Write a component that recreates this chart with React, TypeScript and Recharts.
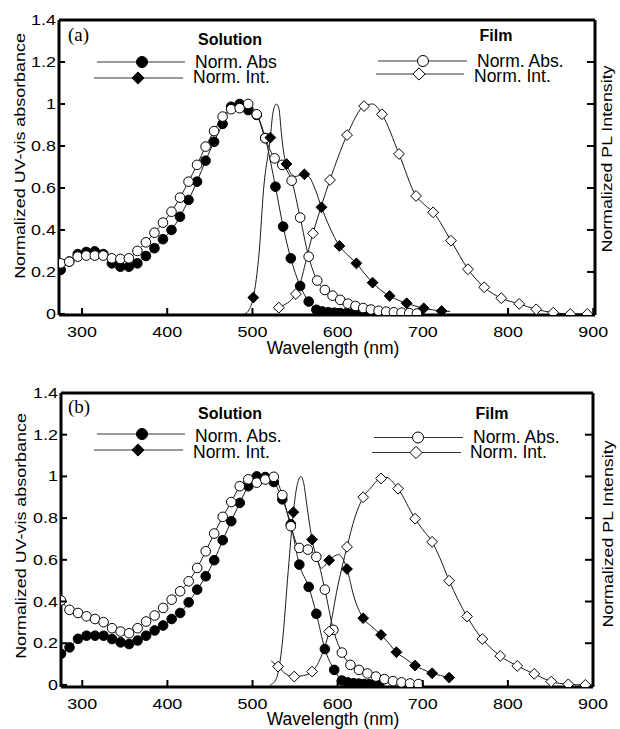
import React from "react";
import { ComposedChart, Line, XAxis, YAxis, Legend, Label } from "recharts";

type Pt = [number, number];
type Kind = "disc" | "ring" | "diamond" | "odiamond";

const xTicks = [300, 400, 500, 600, 700, 800, 900];
const yTicks = [0, 0.2, 0.4, 0.6, 0.8, 1, 1.2, 1.4];
const rightTicks = [0.2, 0.4, 0.6, 0.8, 1, 1.2];

// ---- panel (a) ----
const solAbsA: Pt[] = [
  [275, 0.21], [285, 0.25], [295, 0.285], [305, 0.295], [315, 0.298], [325, 0.285], [335, 0.241],
  [345, 0.225], [355, 0.225], [365, 0.241], [375, 0.276], [385, 0.313], [395, 0.356], [405, 0.4],
  [415, 0.463], [425, 0.543], [435, 0.63], [445, 0.73], [455, 0.82], [465, 0.905], [475, 0.987],
  [485, 1.0], [495, 0.971], [505, 0.948], [515, 0.838], [527, 0.606], [536, 0.416], [545, 0.265],
  [556, 0.133], [566, 0.059], [575, 0.02], [582, 0.012], [589, 0.008], [596, 0.006], [603, 0.004],
  [610, 0.003], [617, 0.002], [624, 0.002], [631, 0.001], [638, 0.001], [645, 0.0], [652, 0.0],
];
const filmAbsA: Pt[] = [
  [275, 0.241], [285, 0.249], [295, 0.273], [305, 0.278], [315, 0.278], [325, 0.278], [335, 0.265],
  [345, 0.262], [355, 0.265], [365, 0.3], [375, 0.341], [385, 0.387], [395, 0.435], [405, 0.487],
  [415, 0.554], [425, 0.63], [435, 0.71], [445, 0.797], [455, 0.871], [465, 0.94], [475, 0.975],
  [485, 0.98], [495, 1.0], [505, 0.951], [515, 0.837], [526, 0.741], [535, 0.71], [546, 0.635],
  [556, 0.459], [566, 0.273], [576, 0.159], [585, 0.114], [594, 0.087], [603, 0.067], [612, 0.049],
  [621, 0.038], [630, 0.028], [639, 0.021], [648, 0.015], [657, 0.011], [666, 0.008], [675, 0.006],
  [684, 0.004], [693, 0.002],
];
const solPlA: Pt[] = [
  [501, 0.078], [521, 0.84], [540, 0.714], [561, 0.665], [581, 0.508], [602, 0.324], [622, 0.241],
  [641, 0.149], [661, 0.086], [681, 0.051], [701, 0.027], [722, 0.014],
];
const solPlLineA: Pt[] = [
  [491, 0.0], [496, 0.02], [508, 0.3], [513, 0.59], [524, 0.956], [528, 1.0], [531, 0.98],
  [534, 0.86], [537, 0.76], [550, 0.655], [567, 0.65], [574, 0.59], [591, 0.41], [612, 0.28],
  [631, 0.195], [651, 0.112], [671, 0.066], [691, 0.038], [711, 0.02], [732, 0.012],
];
const filmPlA: Pt[] = [
  [531, 0.03], [551, 0.095], [571, 0.384], [591, 0.638], [611, 0.852], [631, 0.99], [652, 0.951],
  [672, 0.762], [692, 0.562], [712, 0.484], [733, 0.349], [753, 0.213], [772, 0.127], [792, 0.075],
  [813, 0.048], [833, 0.022], [853, 0.006], [873, 0.0], [893, 0.0],
];
const filmPlLineA: Pt[] = [[526, 0.02], [641, 1.0], [702, 0.52], [900, 0.0]];

// ---- panel (b) ----
const solAbsB: Pt[] = [
  [275, 0.149], [285, 0.18], [295, 0.221], [305, 0.236], [315, 0.236], [325, 0.236], [335, 0.22],
  [345, 0.204], [355, 0.196], [365, 0.213], [375, 0.236], [385, 0.261], [395, 0.285], [405, 0.316],
  [415, 0.345], [425, 0.396], [435, 0.457], [445, 0.521], [455, 0.598], [465, 0.694], [475, 0.785],
  [485, 0.873], [495, 0.953], [505, 1.0], [515, 0.997], [525, 0.973], [535, 0.89], [545, 0.77],
  [555, 0.577], [566, 0.47], [575, 0.341], [585, 0.172], [596, 0.072], [605, 0.021], [612, 0.012],
  [619, 0.008], [625, 0.006], [631, 0.004], [637, 0.003], [643, 0.002], [649, 0.001],
];
const filmAbsB: Pt[] = [
  [275, 0.405], [285, 0.36], [295, 0.345], [305, 0.329], [315, 0.316], [325, 0.301], [335, 0.272],
  [345, 0.256], [355, 0.248], [365, 0.272], [375, 0.304], [385, 0.333], [395, 0.369], [405, 0.409],
  [415, 0.449], [425, 0.497], [435, 0.561], [445, 0.641], [455, 0.726], [465, 0.806], [475, 0.877],
  [485, 0.953], [495, 0.986], [505, 0.97], [515, 0.985], [525, 0.998], [535, 0.91], [545, 0.761],
  [555, 0.657], [565, 0.649], [575, 0.614], [585, 0.457], [595, 0.264], [605, 0.155], [615, 0.096],
  [625, 0.072], [635, 0.055], [645, 0.04], [655, 0.028], [665, 0.018], [675, 0.012], [685, 0.007],
  [695, 0.004],
];
const solPlB: Pt[] = [
  [548, 0.828], [570, 0.697], [590, 0.598], [611, 0.556], [630, 0.32], [651, 0.24], [669, 0.157],
  [691, 0.093], [711, 0.056], [731, 0.035],
];
const solPlLineB: Pt[] = [
  [521, 0.0], [528, 0.03], [535, 0.2], [542, 0.55], [552, 0.95], [557, 1.0], [560, 0.97],
  [564, 0.857], [567, 0.77], [576, 0.6], [581, 0.56], [601, 0.625], [619, 0.425], [640, 0.28],
  [660, 0.2], [680, 0.125], [701, 0.073], [721, 0.045],
];
const filmPlB: Pt[] = [
  [530, 0.088], [549, 0.04], [570, 0.064], [590, 0.256], [611, 0.662], [630, 0.9], [651, 0.99],
  [671, 0.941], [691, 0.797], [711, 0.686], [731, 0.5], [752, 0.328], [770, 0.22], [791, 0.139],
  [811, 0.091], [831, 0.053], [851, 0.016], [871, 0.003], [891, 0.0],
];
const filmPlLineB: Pt[] = [
  [522, 0.115], [540, 0.05], [560, 0.045], [580, 0.13], [600, 0.47], [620, 0.8], [640, 0.95],
  [645, 0.975], [658, 0.995], [663, 0.98], [700, 0.745], [720, 0.61], [900, 0.0],
];

const SANS = "Liberation Sans, Arial, sans-serif";

function rows(marks: Pt[], extra: Pt[] = []) {
  return [
    ...marks.map(([nm, v]) => ({ nm, v, m: true })),
    ...extra.map(([nm, v]) => ({ nm, v, m: false })),
  ].sort((a, b) => a.nm - b.nm);
}

function Marker({ kind, cx, cy, r = 4.8 }: { kind: Kind; cx: number; cy: number; r?: number }) {
  const fill = kind === "disc" || kind === "diamond" ? "#000" : "#fff";
  if (kind === "disc" || kind === "ring") {
    return <circle cx={cx} cy={cy} r={r} fill={fill} stroke="#000" strokeWidth={1} />;
  }
  const d = r + 0.6;
  return (
    <polygon
      points={`${cx},${cy - d} ${cx + d},${cy} ${cx},${cy + d} ${cx - d},${cy}`}
      fill={fill}
      stroke="#000"
      strokeWidth={1}
    />
  );
}

const dotFor = (kind: Kind) => (p: any) =>
  p.payload && p.payload.m ? (
    <Marker key={`${kind}-${p.index}`} kind={kind} cx={p.cx} cy={p.cy} />
  ) : (
    <g key={`${kind}-${p.index}`} />
  );

// tickSize/tickMargin are 0, so x/y arrive on the axis line; the inward tick is drawn here
const XTick = (p: any) => (
  <g>
    <line x1={p.x} x2={p.x} y1={p.y} y2={p.y - 7} stroke="#000" strokeWidth={2} />
    <text
      transform={`translate(${p.x} ${p.y + 22}) scale(1.28 1)`}
      textAnchor="middle"
      fontSize={14}
      fontFamily={SANS}
      fill="#000"
    >
      {p.payload.value}
    </text>
  </g>
);

const YTick = (p: any) => (
  <g>
    <line x1={p.x} x2={p.x + 6} y1={p.y} y2={p.y} stroke="#000" strokeWidth={2} />
    <text
      transform={`translate(${p.x - 3} ${p.y + 5}) scale(1.28 1)`}
      textAnchor="end"
      fontSize={14}
      fontFamily={SANS}
      fill="#000"
    >
      {String(p.payload.value)}
    </text>
  </g>
);

const RTick = (p: any) => (
  <line x1={p.x} x2={p.x - 8} y1={p.y} y2={p.y} stroke="#000" strokeWidth={2} />
);

type LegendRow = { kind: Kind; text: string; x1: number; x2: number; mx: number; ly: number; tx: number; ty: number };
type PanelCfg = {
  top: number;
  height: number;
  margin: { top: number; right: number; bottom: number; left: number };
  xDomain: [number, number];
  yDomain: [number, number];
  tag: string;
  tagY: number;
  leftTitle: { cx: number; cy: number };
  rightTitle: { cx: number; cy: number };
  xTitleY: number;
  solHead: { x: number; y: number };
  filmHead: { x: number; y: number };
  legend: LegendRow[];
  series: { kind: Kind; marks: Pt[]; extra?: Pt[] }[];
};

const panels: PanelCfg[] = [
  {
    top: 0,
    height: 360,
    margin: { top: 19, right: 24, bottom: 21, left: 0 },
    xDomain: [273, 902],
    yDomain: [-0.005, 1.4],
    tag: "(a)",
    tagY: 41,
    leftTitle: { cx: 20, cy: 156 },
    rightTitle: { cx: 607, cy: 159 },
    xTitleY: 39,
    solHead: { x: 230, y: 45 },
    filmHead: { x: 496, y: 41 },
    legend: [
      { kind: "disc", text: "Norm. Abs", x1: 97, x2: 185, mx: 142, ly: 62, tx: 195, ty: 67.5 },
      { kind: "diamond", text: "Norm. Int.", x1: 94, x2: 183, mx: 138, ly: 78, tx: 193, ty: 83 },
      { kind: "ring", text: "Norm. Abs.", x1: 378, x2: 467, mx: 423, ly: 61, tx: 477, ty: 66.5 },
      { kind: "odiamond", text: "Norm. Int.", x1: 376, x2: 464, mx: 419, ly: 74, tx: 474, ty: 81.5 },
    ],
    series: [
      { kind: "disc", marks: solAbsA },
      { kind: "ring", marks: filmAbsA },
      { kind: "diamond", marks: solPlA, extra: solPlLineA },
      { kind: "odiamond", marks: filmPlA, extra: filmPlLineA },
    ],
  },
  {
    top: 373,
    height: 356,
    margin: { top: 19, right: 26, bottom: 18, left: 2 },
    xDomain: [275, 900],
    yDomain: [-0.01, 1.4],
    tag: "(b)",
    tagY: 40,
    leftTitle: { cx: 21, cy: 163 },
    rightTitle: { cx: 608, cy: 161 },
    xTitleY: 38,
    solHead: { x: 230, y: 45.5 },
    filmHead: { x: 492, y: 45.5 },
    legend: [
      { kind: "disc", text: "Norm. Abs.", x1: 97, x2: 185, mx: 142, ly: 61, tx: 195, ty: 69 },
      { kind: "diamond", text: "Norm. Int.", x1: 94, x2: 183, mx: 138, ly: 77, tx: 193, ty: 84.5 },
      { kind: "ring", text: "Norm. Abs.", x1: 374, x2: 463, mx: 418, ly: 64.5, tx: 473, ty: 70 },
      { kind: "odiamond", text: "Norm. Int.", x1: 372, x2: 461, mx: 416, ly: 79.5, tx: 470, ty: 85 },
    ],
    series: [
      { kind: "disc", marks: solAbsB },
      { kind: "ring", marks: filmAbsB },
      { kind: "diamond", marks: solPlB, extra: solPlLineB },
      { kind: "odiamond", marks: filmPlB, extra: filmPlLineB },
    ],
  },
];

function PanelLegend({ cfg }: { cfg: PanelCfg }) {
  return (
    <svg width={620} height={cfg.height} style={{ display: "block", overflow: "visible" }}>
      <text x={68} y={cfg.tagY} fontSize={19} fontFamily="Liberation Serif, Times New Roman, serif" fill="#000">
        {cfg.tag}
      </text>
      <text x={cfg.solHead.x} y={cfg.solHead.y} textAnchor="middle" fontSize={16} fontWeight="bold" fontFamily={SANS} fill="#000">
        Solution
      </text>
      <text x={cfg.filmHead.x} y={cfg.filmHead.y} textAnchor="middle" fontSize={16} fontWeight="bold" fontFamily={SANS} fill="#000">
        Film
      </text>
      {cfg.legend.map((r) => (
        <g key={r.kind}>
          <line x1={r.x1} x2={r.x2} y1={r.ly} y2={r.ly} stroke="#333" strokeWidth={1} />
          <Marker kind={r.kind} cx={r.mx} cy={r.ly} r={5.5} />
          <text x={r.tx} y={r.ty} fontSize={17.5} fontFamily={SANS} fill="#000">
            {r.text}
          </text>
        </g>
      ))}
    </svg>
  );
}

function Panel({ cfg }: { cfg: PanelCfg }) {
  const frame = { stroke: "#000", strokeWidth: 3 };
  return (
    <div style={{ position: "absolute", left: 0, top: cfg.top }}>
      <ComposedChart width={620} height={cfg.height} margin={cfg.margin}>
        <XAxis
          xAxisId="x"
          type="number"
          dataKey="nm"
          domain={cfg.xDomain}
          allowDataOverflow
          ticks={xTicks}
          interval={0}
          height={24}
          tickSize={0}
          tickMargin={0}
          axisLine={frame}
          tickLine={false}
          tick={(p: any) => <XTick {...p} />}
        >
          <Label
            content={(p: any) => {
              const vb = p.viewBox;
              return (
                <text
                  x={vb.x + vb.width / 2 + 6}
                  y={vb.y + cfg.xTitleY}
                  textAnchor="middle"
                  fontSize={17.5}
                  fontFamily={SANS}
                  fill="#000"
                >
                  Wavelength (nm)
                </text>
              );
            }}
          />
        </XAxis>
        <XAxis
          xAxisId="top"
          orientation="top"
          type="number"
          domain={cfg.xDomain}
          allowDataOverflow
          height={1}
          tick={false}
          tickLine={false}
          axisLine={frame}
        />
        <YAxis
          yAxisId="y"
          type="number"
          dataKey="v"
          domain={cfg.yDomain}
          allowDataOverflow
          ticks={yTicks}
          interval={0}
          width={59}
          tickSize={0}
          tickMargin={0}
          axisLine={frame}
          tickLine={false}
          tick={(p: any) => <YTick {...p} />}
        >
          <Label
            content={() => (
              <text
                transform={`translate(${cfg.leftTitle.cx} ${cfg.leftTitle.cy}) rotate(-90) scale(1.28 1)`}
                y={5}
                textAnchor="middle"
                fontSize={14}
                fontFamily={SANS}
                fill="#000"
              >
                Normalized UV-vis absorbance
              </text>
            )}
          />
        </YAxis>
        <YAxis
          yAxisId="r"
          orientation="right"
          type="number"
          domain={cfg.yDomain}
          allowDataOverflow
          ticks={rightTicks}
          interval={0}
          width={1}
          tickSize={0}
          tickMargin={0}
          axisLine={frame}
          tickLine={false}
          tick={(p: any) => <RTick {...p} />}
        >
          <Label
            content={() => (
              <text
                transform={`translate(${cfg.rightTitle.cx} ${cfg.rightTitle.cy}) rotate(-90) scale(1.27 1)`}
                y={5}
                textAnchor="middle"
                fontSize={14}
                fontFamily={SANS}
                fill="#000"
              >
                Normalized PL Intensity
              </text>
            )}
          />
        </YAxis>
        <Legend
          layout="horizontal"
          verticalAlign="middle"
          align="center"
          wrapperStyle={{ left: 0, top: 0, width: 620, height: cfg.height, pointerEvents: "none" }}
          content={() => <PanelLegend cfg={cfg} />}
        />
        {cfg.series.map((s) => (
          <Line
            key={s.kind}
            xAxisId="x"
            yAxisId="y"
            data={rows(s.marks, s.extra)}
            dataKey="v"
            type="monotone"
            stroke="#1a1a1a"
            strokeWidth={1}
            dot={dotFor(s.kind)}
            activeDot={false}
            legendType="none"
            isAnimationActive={false}
          />
        ))}
      </ComposedChart>
    </div>
  );
}

export default function App() {
  return (
    <div
      style={{
        position: "absolute",
        left: 0,
        top: 0,
        width: 620,
        height: 729,
        background: "#fff",
        overflow: "hidden",
      }}
    >
      {panels.map((cfg) => (
        <Panel key={cfg.tag} cfg={cfg} />
      ))}
    </div>
  );
}
